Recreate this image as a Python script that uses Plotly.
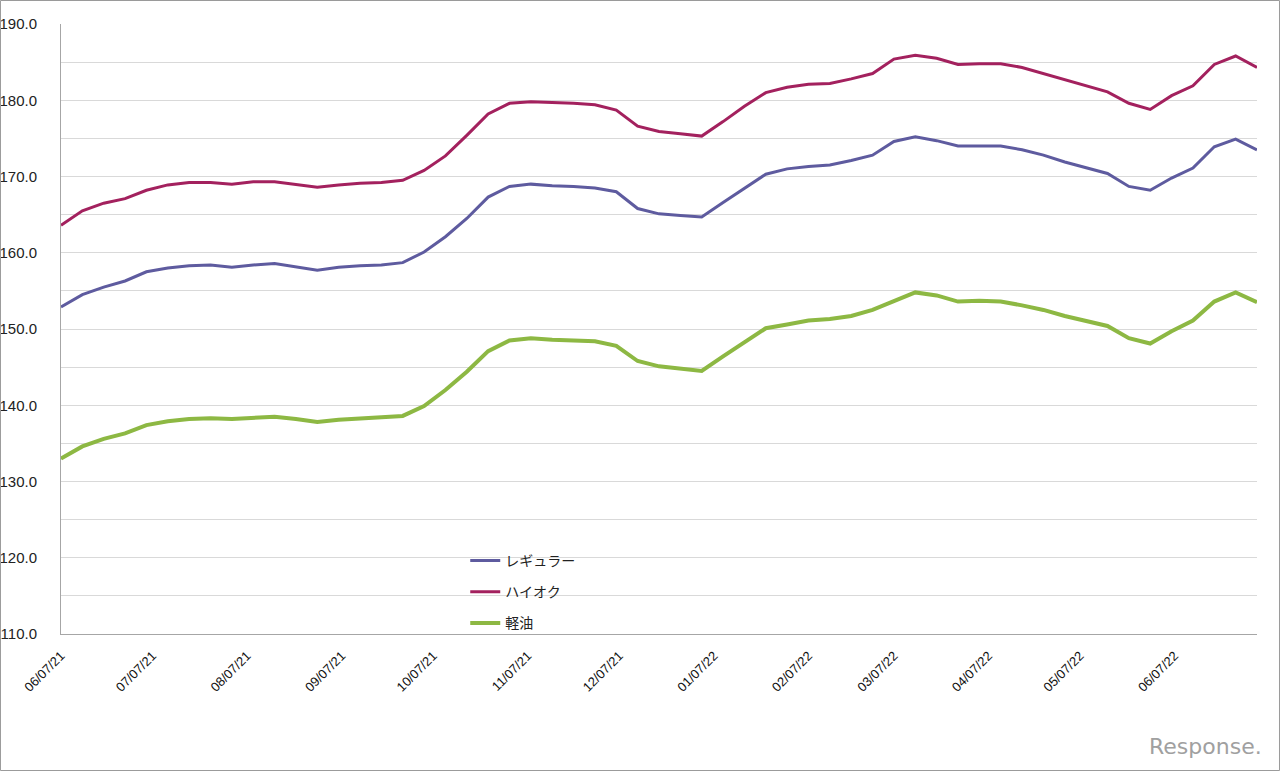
import pandas as pd
import plotly.graph_objects as go

# Weekly survey dates (Mondays)
dates = pd.date_range("2021-06-07", periods=57, freq="7D")

regular = [152.9, 154.5, 155.5, 156.3, 157.5, 158.0, 158.3, 158.4, 158.1, 158.4,
           158.6, 158.2, 157.7, 158.1, 158.3, 158.4, 158.7, 160.1, 162.1, 164.5,
           167.3, 168.7, 169.0, 168.8, 168.7, 168.5, 168.0, 165.8, 165.1, 164.9,
           164.7, 166.6, 168.5, 170.3, 171.0, 171.3, 171.5, 172.1, 172.8, 174.6,
           175.2, 174.7, 174.0, 174.0, 174.0, 173.5, 172.8, 171.9, 171.1, 170.4,
           168.7, 168.2, 169.8, 171.1, 173.9, 174.9, 173.5]

high_octane = [163.6, 165.5, 166.5, 167.1, 168.2, 168.9, 169.2, 169.2, 169.0, 169.3,
               169.3, 169.0, 168.6, 168.9, 169.1, 169.2, 169.5, 170.8, 172.7, 175.4,
               178.2, 179.6, 179.8, 179.7, 179.6, 179.4, 178.7, 176.6, 175.9, 175.6,
               175.3, 177.2, 179.2, 181.0, 181.7, 182.1, 182.2, 182.8, 183.5, 185.4,
               185.9, 185.5, 184.7, 184.8, 184.8, 184.3, 183.5, 182.7, 181.9, 181.1,
               179.6, 178.8, 180.6, 181.9, 184.7, 185.8, 184.3]

diesel = [133.0, 134.6, 135.6, 136.3, 137.4, 137.9, 138.2, 138.3, 138.2, 138.4,
          138.5, 138.2, 137.8, 138.1, 138.3, 138.4, 138.6, 139.9, 142.0, 144.4,
          147.1, 148.5, 148.8, 148.6, 148.5, 148.4, 147.8, 145.8, 145.1, 144.8,
          144.5, 146.4, 148.3, 150.1, 150.6, 151.1, 151.3, 151.7, 152.5, 153.7,
          154.8, 154.4, 153.6, 153.7, 153.6, 153.1, 152.5, 151.7, 151.0, 150.4,
          148.8, 148.1, 149.7, 151.1, 153.6, 154.8, 153.5]

series_names = ["レギュラー", "ハイオク", "軽油"]
series_colors = ["#5E5B9F", "#A3215E", "#8DB843"]
series_widths = [3, 3, 4]
series_values = [regular, high_octane, diesel]

fig = go.Figure()
for i, (name, vals, col, w) in enumerate(zip(series_names, series_values, series_colors, series_widths)):
    fig.add_trace(go.Scatter(
        x=dates, y=vals, mode="lines", name=name,
        line=dict(color=col, width=w),
        legendgroup=f"g{i}",
    ))

font_family = "Liberation Sans, Arial, Noto Sans CJK JP, sans-serif"

fig.update_layout(
    width=1280, height=771,
    margin=dict(l=61, r=23, t=24, b=137),
    paper_bgcolor="white", plot_bgcolor="white",
    font=dict(family=font_family, color="#222222"),
    showlegend=True,
    legend=dict(
        x=0.338, y=0.146, xanchor="left", yanchor="top",
        bgcolor="rgba(0,0,0,0)",
        font=dict(size=14, color="#222222", family=font_family),
        traceorder="grouped", tracegroupgap=10,
        itemwidth=30,
    ),
    xaxis=dict(
        type="date",
        range=[dates[0], dates[-1]],
        tick0="2021-06-07", dtick="M1",
        tickformat="%m/%d/%y",
        tickangle=-45,
        tickfont=dict(size=13, color="#111111", family=font_family),
        showgrid=False,
        showline=True, linecolor="#A6A6A6", linewidth=1,
        ticks="",
        ticklabelstandoff=8,
        zeroline=False,
        automargin=False,
    ),
    yaxis=dict(
        range=[110, 190],
        dtick=10, tick0=110,
        tickformat=".1f",
        tickfont=dict(size=15, color="#222222", family=font_family),
        showgrid=True, gridcolor="#D9D9D9", gridwidth=1,
        minor=dict(dtick=5, tick0=110, showgrid=True, gridcolor="#D9D9D9", gridwidth=1),
        showline=True, linecolor="#A6A6A6", linewidth=1,
        ticks="",
        ticklabelstandoff=20,
        zeroline=False,
        automargin=False,
    ),
    shapes=[dict(
        type="rect", xref="paper", yref="paper",
        x0=-0.0506, x1=1.0188, y0=-0.2238, y1=1.0385,
        line=dict(color="#9A9A9A", width=1), fillcolor="rgba(0,0,0,0)",
    )],
    annotations=[dict(
        text="Response.", xref="paper", yref="paper",
        x=1.006, y=-0.185, xanchor="right", yanchor="middle",
        showarrow=False,
        font=dict(size=22, color="#A0A0A0", family="DejaVu Sans, sans-serif"),
    )],
)

fig.write_html("out.html")
